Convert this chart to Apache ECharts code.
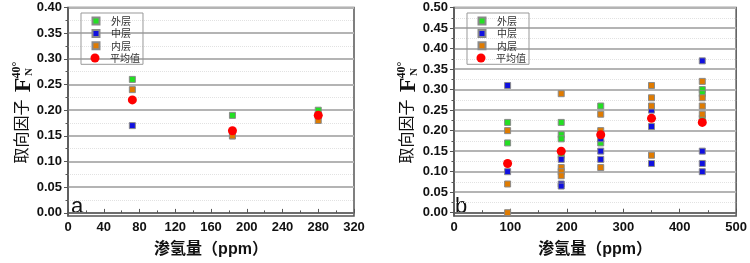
<!DOCTYPE html>
<html>
<head>
<meta charset="utf-8">
<script src="https://cdn.jsdelivr.net/npm/echarts@6/dist/echarts.min.js"></script>
<style>
html, body { margin: 0; padding: 0; background: #fff; }
#chart { width: 750px; height: 263px; }
</style>
</head>
<body>
<div id="chart"></div>
<script>
// 面板 a：渗氢量 vs 取向因子
var outerA = [[72, 0.26], [184, 0.19], [280, 0.20]];
var middleA = [[72, 0.17], [184, 0.15], [280, 0.19]];
var innerA = [[72, 0.24], [184, 0.15], [280, 0.18]];
var meanA = [[72, 0.22], [184, 0.16], [280, 0.19]];
var yTicksA = [0, 0.05, 0.10, 0.15, 0.20, 0.25, 0.30, 0.35, 0.40];

// 面板 b
var outerB = [[95, 0.22], [95, 0.17], [190, 0.22], [190, 0.19], [190, 0.18], [190, 0.14],
	[260, 0.26], [260, 0.17], [440, 0.30], [440, 0.29], [440, 0.23]];
var middleB = [[95, 0.31], [95, 0.10], [190, 0.13], [190, 0.07], [190, 0.065],
	[260, 0.18], [260, 0.15], [260, 0.13], [350, 0.25], [350, 0.21], [350, 0.12],
	[440, 0.37], [440, 0.15], [440, 0.12], [440, 0.10]];
var innerB = [[95, 0.20], [95, 0.07], [95, 0.00], [190, 0.29], [190, 0.11], [190, 0.10], [190, 0.09],
	[260, 0.24], [260, 0.20], [260, 0.11], [350, 0.31], [350, 0.28], [350, 0.26], [350, 0.14],
	[440, 0.32], [440, 0.28], [440, 0.26], [440, 0.24]];
var meanB = [[95, 0.12], [190, 0.15], [260, 0.19], [350, 0.23], [440, 0.22]];
var yTicksB = [0, 0.05, 0.10, 0.15, 0.20, 0.25, 0.30, 0.35, 0.40, 0.45, 0.50];

var names = ['外层', '中层', '内层', '平均值'];
var xName = '渗氢量（ppm）';

var chart = echarts.init(document.getElementById('chart'));

var numFont = '"Liberation Sans", Arial, sans-serif';
var cjkFont = '"Noto Sans CJK SC", sans-serif';
var serifFont = '"Liberation Serif", "Times New Roman", serif';

function xAxisOf(idx, max, step) {
	return {
		type: 'value',
		gridIndex: idx,
		min: 0,
		max: max,
		interval: step,
		name: xName,
		nameLocation: 'middle',
		nameGap: 26,
		nameTextStyle: {
			fontFamily: numFont + ', ' + cjkFont,
			fontWeight: 'bold',
			fontSize: 16,
			color: '#111'
		},
		axisLine: { lineStyle: { color: '#555', width: 1.5 } },
		axisTick: { inside: true, length: 4, lineStyle: { color: '#555' } },
		minorTick: { show: true, splitNumber: 2, length: 2.5, lineStyle: { color: '#555' } },
		axisLabel: { margin: 5, fontFamily: numFont, fontWeight: 'bold', fontSize: 13, color: '#111' },
		splitLine: { show: false }
	};
}

function yAxisOf(idx, min, max, split, ticks) {
	return {
		type: 'value',
		gridIndex: idx,
		min: min,
		max: max,
		splitNumber: split,
		axisLine: { show: true, lineStyle: { color: '#555', width: 1.5 } },
		axisTick: { show: true, length: 4, customValues: ticks, lineStyle: { color: '#555' } },
		minorTick: { show: true, splitNumber: 2, length: 2.5, lineStyle: { color: '#555' } },
		axisLabel: {
			customValues: ticks,
			margin: 6,
			fontFamily: numFont,
			fontWeight: 'bold',
			fontSize: 13,
			color: '#111',
			formatter: function(v) { return v.toFixed(2); }
		},
		splitLine: { show: true, lineStyle: { color: '#b4b4b4', width: 2 } },
		minorSplitLine: { show: true, lineStyle: { color: '#e2e2e2', width: 1, type: 'dotted' } }
	};
}

function sq(name, data, color, idx) {
	return {
		name: name,
		type: 'scatter',
		xAxisIndex: idx,
		yAxisIndex: idx,
		symbol: 'rect',
		symbolSize: 6,
		data: data,
		itemStyle: { color: color, borderColor: '#8a8a8a', borderWidth: 1, opacity: 1 },
		emphasis: { disabled: true }
	};
}

function dot(name, data, idx) {
	return {
		name: name,
		type: 'scatter',
		xAxisIndex: idx,
		yAxisIndex: idx,
		symbol: 'circle',
		symbolSize: 9,
		data: data,
		itemStyle: { color: '#ff0000', opacity: 1 },
		emphasis: { disabled: true }
	};
}

function legendBox(left) {
	return {
		left: left,
		top: 13,
		orient: 'vertical',
		data: names.slice(0, 3),
		itemWidth: 7,
		itemHeight: 7,
		itemGap: 0.4,
		padding: [2, 12, 12.5, 10.5],
		borderColor: '#999',
		borderWidth: 1,
		selectedMode: false,
		textStyle: { fontFamily: cjkFont, fontSize: 10, lineHeight: 12, color: '#333', padding: [0, 0, 0, 6.5] }
	};
}

function legendMean(left) {
	return {
		left: left,
		top: 52,
		orient: 'vertical',
		data: [names[3]],
		itemWidth: 9,
		itemHeight: 9,
		padding: 0,
		selectedMode: false,
		textStyle: { fontFamily: cjkFont, fontSize: 10, lineHeight: 12, color: '#333', padding: [0, 0, 0, 5.5] }
	};
}

function yNameParts(cx) {
	return [
		{ type: 'text', x: cx, y: 131.5, rotation: Math.PI / 2,
			style: { text: '取向因子', font: '16px ' + cjkFont, fill: '#111', align: 'center', verticalAlign: 'middle', textAlign: 'center', textVerticalAlign: 'middle' } },
		{ type: 'text', x: cx + 3, y: 85, rotation: Math.PI / 2,
			style: { text: 'F', font: 'bold 24px ' + serifFont, fill: '#111', align: 'center', verticalAlign: 'middle', textAlign: 'center', textVerticalAlign: 'middle' } },
		{ type: 'text', x: cx - 4, y: 70, rotation: Math.PI / 2,
			style: { text: '40°', font: 'bold 12px ' + serifFont, fill: '#111', align: 'center', verticalAlign: 'middle', textAlign: 'center', textVerticalAlign: 'middle' } },
		{ type: 'text', x: cx + 8.5, y: 72, rotation: Math.PI / 2,
			style: { text: 'N', font: 'bold 11px ' + serifFont, fill: '#111', align: 'center', verticalAlign: 'middle', textAlign: 'center', textVerticalAlign: 'middle' } }
	];
}

var option = {
	backgroundColor: '#fff',
	animation: false,
	grid: [
		{ left: 68, right: 396, top: 7.5, bottom: 44, show: true, borderColor: '#555', borderWidth: 1.5, backgroundColor: 'transparent' },
		{ left: 454, right: 11, top: 7.5, bottom: 44, show: true, borderColor: '#555', borderWidth: 1.5, backgroundColor: 'transparent' }
	],
	xAxis: [xAxisOf(0, 320, 40), xAxisOf(1, 500, 100)],
	yAxis: [yAxisOf(0, -0.006, 0.40, 8, yTicksA), yAxisOf(1, -0.008, 0.50, 10, yTicksB)],
	legend: [legendBox(81), legendMean(90.5), legendBox(467), legendMean(476.5)],
	series: [
		sq(names[0], outerA, '#22e022', 0),
		sq(names[1], middleA, '#1010e0', 0),
		sq(names[2], innerA, '#e07b00', 0),
		dot(names[3], meanA, 0),
		sq(names[0], outerB, '#22e022', 1),
		sq(names[1], middleB, '#1010e0', 1),
		sq(names[2], innerB, '#e07b00', 1),
		dot(names[3], meanB, 1)
	],
	graphic: yNameParts(21).concat(yNameParts(406)).concat([
		{ type: 'text', x: 71, y: 206.5,
			style: { text: 'a', font: '22px ' + numFont, fill: '#111', align: 'left', verticalAlign: 'middle', textAlign: 'left', textVerticalAlign: 'middle' } },
		{ type: 'text', x: 455, y: 206.5,
			style: { text: 'b', font: '22px ' + numFont, fill: '#111', align: 'left', verticalAlign: 'middle', textAlign: 'left', textVerticalAlign: 'middle' } }
	])
};

chart.setOption(option);
</script>
</body>
</html>
